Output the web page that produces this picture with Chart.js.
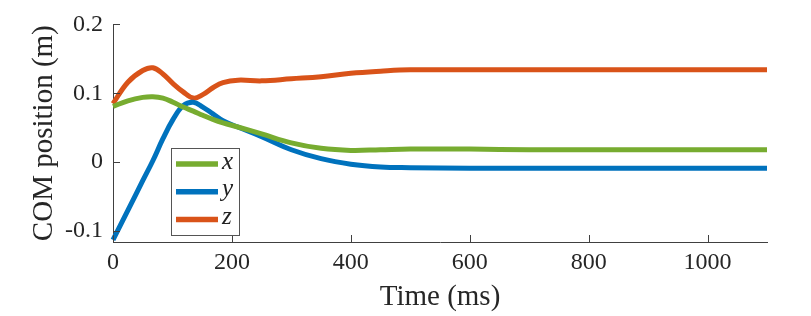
<!DOCTYPE html>
<html>
<head>
<meta charset="utf-8">
<script src="https://cdn.jsdelivr.net/npm/chart.js@4/dist/chart.umd.min.js"></script>
<style>
  html, body { margin: 0; padding: 0; background: #fff; }
  #wrap { width: 811px; height: 316px; }
</style>
</head>
<body>
<div id="wrap"><canvas id="comChart" width="811" height="316"></canvas></div>
<script>
// ================= DATOS =================
const timeMs = [0, 25, 50, 67, 84, 101, 118, 135, 151, 168, 185, 210, 250, 300, 350, 400, 450, 500, 600, 700, 800, 900, 1000, 1100];

const comX = [0.081, 0.089, 0.094, 0.095, 0.093, 0.087, 0.080, 0.074, 0.068, 0.062, 0.057, 0.051, 0.041, 0.028, 0.020, 0.017, 0.018, 0.019, 0.019, 0.018, 0.018, 0.018, 0.018, 0.018];
const comY = [-0.113, -0.070, -0.027, 0.002, 0.034, 0.062, 0.082, 0.087, 0.080, 0.070, 0.060, 0.051, 0.037, 0.018, 0.005, -0.003, -0.007, -0.008, -0.009, -0.009, -0.009, -0.009, -0.009, -0.009];
const comZ = [0.085, 0.116, 0.133, 0.137, 0.128, 0.114, 0.102, 0.093, 0.098, 0.108, 0.1155, 0.119, 0.118, 0.121, 0.124, 0.129, 0.132, 0.134, 0.134, 0.134, 0.134, 0.134, 0.134, 0.134];

const seriesLabels = ["x", "y", "z"];
const xTicks = [0, 200, 400, 600, 800, 1000];
const yTicks = [-0.1, 0, 0.1, 0.2];

const colors = ["#77AC30", "#0072BD", "#D95319"];
const FONT = "'Liberation Serif', 'DejaVu Serif', serif";

function toPoints(values) {
    return timeMs.map((t, i) => ({ x: t, y: values[i] }));
}

// ================= TICKS HACIA DENTRO =================
const innerTicks = {
    id: "innerTicks",
    afterDatasetsDraw(chart) {
        const c = chart.ctx;
        const area = chart.chartArea;
        const xs = chart.scales.x;
        const ys = chart.scales.y;
        c.save();
        c.strokeStyle = "#404040";
        c.lineWidth = 1;
        c.beginPath();
        xTicks.forEach(v => {
            const px = Math.round(xs.getPixelForValue(v)) + 0.5;
            c.moveTo(px, area.bottom);
            c.lineTo(px, area.bottom - 7);
        });
        yTicks.forEach(v => {
            const py = Math.round(ys.getPixelForValue(v)) + 0.5;
            c.moveTo(area.left, py);
            c.lineTo(area.left + 7, py);
        });
        c.stroke();
        c.restore();
    }
};

// ================= LEYENDA =================
const boxLegend = {
    id: "boxLegend",
    afterDraw(chart) {
        const c = chart.ctx;
        const left = 171.5, top = 148.5, w = 68, h = 87;
        c.save();
        c.fillStyle = "#fff";
        c.fillRect(left, top, w, h);
        c.strokeStyle = "#555";
        c.lineWidth = 1;
        c.strokeRect(left, top, w, h);
        chart.data.datasets.forEach((ds, i) => {
            const y = 164 + i * 27.7;
            c.strokeStyle = ds.borderColor;
            c.lineWidth = 5.5;
            c.beginPath();
            c.moveTo(176, y);
            c.lineTo(218, y);
            c.stroke();
            c.fillStyle = "#222";
            c.font = "italic 25px " + FONT;
            c.textBaseline = "middle";
            c.fillText(ds.label, 222, y - 2);
        });
        c.restore();
    }
};

// ================= GRÁFICA =================
const ctx = document.getElementById("comChart");

const comChart = new Chart(ctx, {
    type: "line",
    data: {
        datasets: [comX, comY, comZ].map((vals, i) => ({
            label: seriesLabels[i],
            data: toPoints(vals),
            borderColor: colors[i],
            borderWidth: 5,
            pointRadius: 0,
            tension: 0.4,
            fill: false,
            clip: false
        }))
    },
    options: {
        responsive: false,
        animation: false,
        layout: { padding: { left: 0, right: 44, top: 10, bottom: 0 } },
        plugins: {
            legend: { display: false },
            tooltip: { enabled: false }
        },
        scales: {
            x: {
                type: "linear",
                min: 0,
                max: 1100,
                afterBuildTicks: s => { s.ticks = xTicks.map(v => ({ value: v })); },
                afterFit: s => { s.height = 74; },
                ticks: {
                    color: "#262626",
                    font: { family: FONT, size: 24 },
                    padding: 6,
                    maxRotation: 0,
                    callback: v => String(v)
                },
                grid: { display: false, drawTicks: false, tickLength: 0 },
                border: { display: true, color: "#404040", width: 1 },
                title: {
                    display: true,
                    text: "Time (ms)",
                    color: "#262626",
                    font: { family: FONT, size: 29 },
                    padding: { top: 0, bottom: 1 }
                }
            },
            y: {
                min: -0.116,
                max: 0.2,
                afterBuildTicks: s => { s.ticks = yTicks.map(v => ({ value: v })); },
                afterFit: s => { s.width = 113; },
                ticks: {
                    color: "#262626",
                    font: { family: FONT, size: 24 },
                    padding: 10,
                    callback: v => (Math.abs(v) < 1e-9 ? "0" : String(Math.round(v * 10) / 10))
                },
                grid: { display: false, drawTicks: false, tickLength: 0 },
                border: { display: true, color: "#404040", width: 1 },
                title: {
                    display: true,
                    text: "COM position (m)",
                    color: "#262626",
                    font: { family: FONT, size: 29 },
                    padding: { top: 27, bottom: 0 }
                }
            }
        }
    },
    plugins: [innerTicks, boxLegend]
});
</script>
</body>
</html>
